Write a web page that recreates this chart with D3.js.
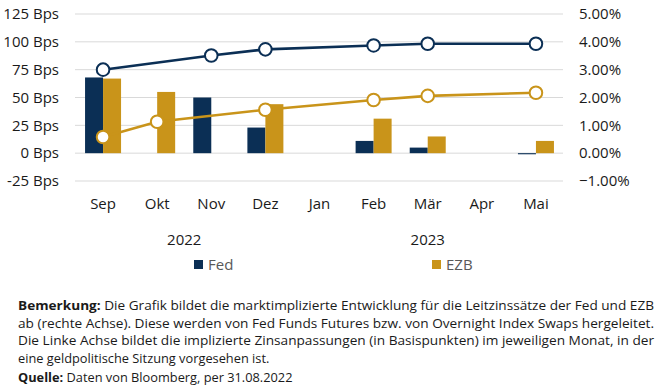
<!DOCTYPE html>
<html>
<head>
<meta charset="utf-8">
<script src="https://cdn.jsdelivr.net/npm/d3@7"></script>
<style>
  body { margin: 0; background: #fff; }
  svg text { font-family: "Open Sans", sans-serif; }
</style>
</head>
<body>
<svg id="chart"></svg>
<script>
const months = ["Sep", "Okt", "Nov", "Dez", "Jan", "Feb", "Mär", "Apr", "Mai"]
// monthly moves in bps (left axis), null = no meeting
const fedBps = [68, null, 50, 23, null, 11, 5, null, -1]
const ezbBps = [67, 55, null, 44, null, 31, 15, null, 11]
// implied policy rate in % (right axis)
const fedRate = [3.0, null, 3.51, 3.73, null, 3.87, 3.93, null, 3.93]
const ezbRate = [0.58, 1.13, null, 1.56, null, 1.91, 2.06, null, 2.17]
const leftTicks = [-25, 0, 25, 50, 75, 100, 125]
const rightTicks = [-1, 0, 1, 2, 3, 4, 5]
const years = [{ label: "2022", from: "Sep", to: "Dez" }, { label: "2023", from: "Jan", to: "Mai" }]

const width = 662
const height = 388
const fedColor = "#0b2f55"
const ezbColor = "#c9941a"

const svg = d3.select("#chart").attr("width", width).attr("height", height)

const x = d3.scaleBand().domain(months).range([76, 563])
const yLeft = d3.scaleLinear().domain([-25, 125]).range([181, 14])
const yRight = d3.scaleLinear().domain([-1, 5]).range([181, 14])
const barW = 18

// grid
svg.append("g")
  .selectAll("line")
  .data(leftTicks)
  .join("line")
  .attr("x1", 75).attr("x2", 563)
  .attr("y1", d => yLeft(d)).attr("y2", d => yLeft(d))
  .attr("stroke", "#d9d9d9").attr("stroke-width", 1)

// left axis
const gl = svg.append("g")
  .attr("transform", "translate(59,0)")
  .call(d3.axisLeft(yLeft).tickValues(leftTicks).tickSize(0).tickPadding(0).tickFormat(d => d + " Bps"))
gl.select(".domain").remove()
gl.selectAll("text").attr("font-size", 15).attr("fill", "#1a1a1a").attr("font-family", "Open Sans")

// right axis
const gr = svg.append("g")
  .attr("transform", "translate(579,0)")
  .call(d3.axisRight(yRight).tickValues(rightTicks).tickSize(0).tickPadding(0).tickFormat(d => d3.format(".2f")(d) + "%"))
gr.select(".domain").remove()
gr.selectAll("text").attr("font-size", 15).attr("fill", "#1a1a1a").attr("font-family", "Open Sans")

// x labels
const gx = svg.append("g")
  .attr("transform", "translate(0,198)")
  .call(d3.axisBottom(x).tickSize(0).tickPadding(0))
gx.select(".domain").remove()
gx.selectAll("text").attr("font-size", 15).attr("fill", "#1a1a1a").attr("font-family", "Open Sans").attr("dy", "0.75em")

// year labels, centred under their months
svg.selectAll(".year")
  .data(years)
  .join("text")
  .attr("x", d => (x(d.from) + x(d.to) + x.bandwidth()) / 2)
  .attr("y", 245)
  .attr("text-anchor", "middle")
  .attr("font-size", 15)
  .attr("fill", "#1a1a1a")
  .text(d => d.label)

const cx = m => x(m) + x.bandwidth() / 2

function bars(values, color, offset) {
  svg.append("g")
    .selectAll("rect")
    .data(months.map((m, i) => ({ m, v: values[i] })).filter(d => d.v !== null))
    .join("rect")
    .attr("x", d => cx(d.m) + offset)
    .attr("y", d => yLeft(Math.max(0, d.v)))
    .attr("width", barW)
    .attr("height", d => Math.abs(yLeft(d.v) - yLeft(0)))
    .attr("fill", color)
}
bars(fedBps, fedColor, -barW)
bars(ezbBps, ezbColor, 0)

function rateLine(values, color) {
  const pts = months.map((m, i) => ({ m, v: values[i] })).filter(d => d.v !== null)
  svg.append("path")
    .datum(pts)
    .attr("fill", "none")
    .attr("stroke", color)
    .attr("stroke-width", 2.6)
    .attr("d", d3.line().x(d => cx(d.m)).y(d => yRight(d.v)))
  svg.append("g")
    .selectAll("circle")
    .data(pts)
    .join("circle")
    .attr("cx", d => cx(d.m))
    .attr("cy", d => yRight(d.v))
    .attr("r", 6.3)
    .attr("fill", "#fff")
    .attr("stroke", color)
    .attr("stroke-width", 2)
}
rateLine(fedRate, fedColor)
rateLine(ezbRate, ezbColor)

// legend
const legend = [{ name: "Fed", color: fedColor, x: 194 }, { name: "EZB", color: ezbColor, x: 432 }]
const lg = svg.append("g").selectAll("g").data(legend).join("g")
  .attr("transform", d => `translate(${d.x},260)`)
lg.append("rect").attr("width", 9).attr("height", 9).attr("y", 0).attr("fill", d => d.color)
lg.append("text").attr("x", 14).attr("y", 10).attr("font-size", 15).attr("fill", "#595959").text(d => d.name)

// footnote
const noteLines = [
  [["Bemerkung:", true], [" Die Grafik bildet die marktimplizierte Entwicklung für die Leitzinssätze der Fed und EZB", false]],
  [["ab (rechte Achse). Diese werden von Fed Funds Futures bzw. von Overnight Index Swaps hergeleitet.", false]],
  [["Die Linke Achse bildet die implizierte Zinsanpassungen (in Basispunkten) im jeweiligen Monat, in der", false]],
  [["eine geldpolitische Sitzung vorgesehen ist.", false]],
  [["Quelle:", true], [" Daten von Bloomberg, per 31.08.2022", false]]
]
const noteY = [310, 327.5, 345, 362.5, 382]
const fullWidth = [true, true, true, false, false]
noteLines.forEach((parts, i) => {
  const t = svg.append("text")
    .attr("x", 18)
    .attr("y", noteY[i])
    .attr("font-size", 12.8)
    .attr("fill", "#1a1a1a")
    .attr("font-family", "Open Sans")
  parts.forEach(([s, b]) => {
    t.append("tspan").attr("font-weight", b ? 700 : 400).text(s)
  })
  if (fullWidth[i]) {
    t.attr("textLength", 636).attr("lengthAdjust", "spacingAndGlyphs")
  }
})
</script>
</body>
</html>
